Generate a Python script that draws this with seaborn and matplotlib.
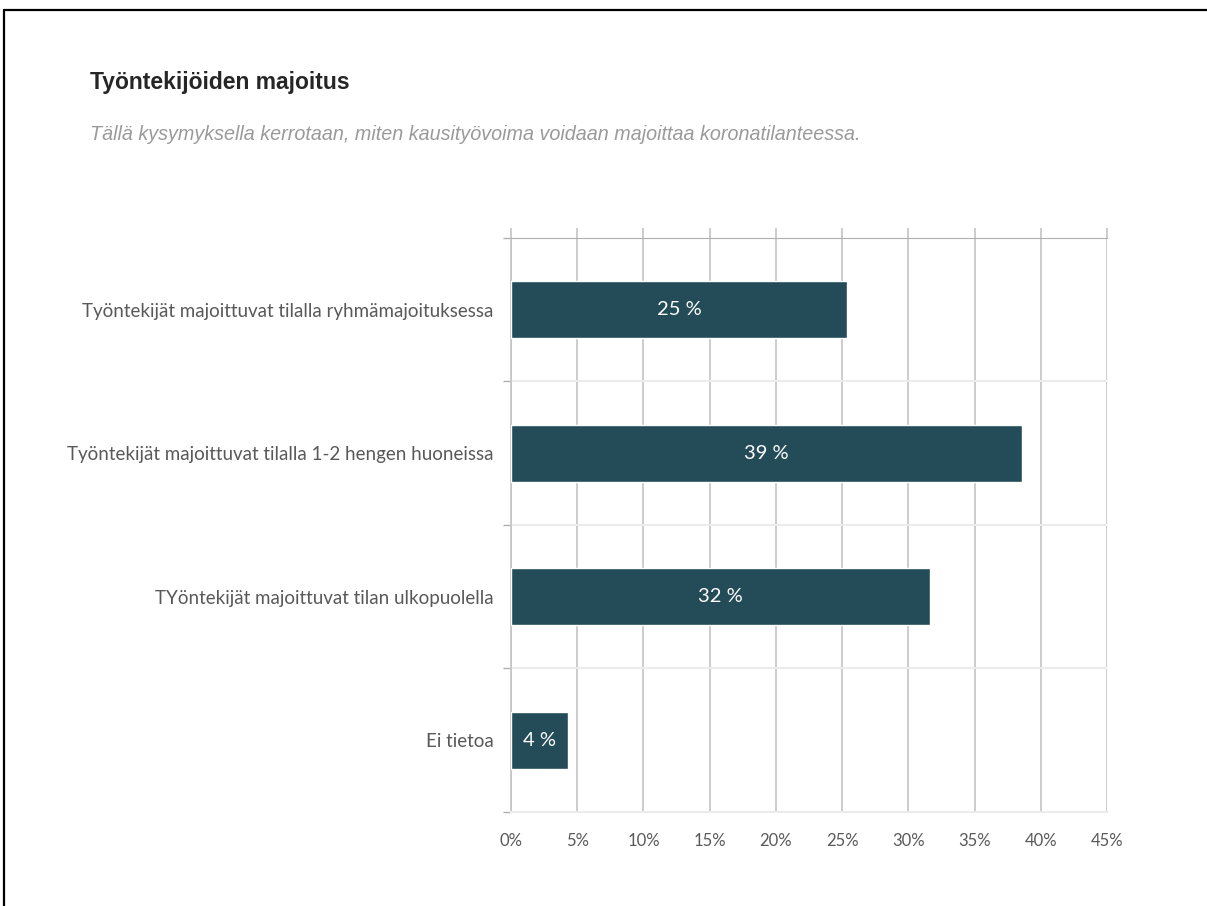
import matplotlib
matplotlib.use("Agg")
import matplotlib.pyplot as plt
from matplotlib.lines import Line2D
from matplotlib.ticker import FuncFormatter, MultipleLocator
import pandas as pd
import seaborn as sns

kategoriat = ['Työntekijät majoittuvat tilalla ryhmämajoituksessa',
              'Työntekijät majoittuvat tilalla 1-2 hengen huoneissa',
              'TYöntekijät majoittuvat tilan ulkopuolella',
              'Ei tietoa']
osuudet = [25.4, 38.6, 31.6, 4.3]
otsikko = 'Työntekijöiden majoitus'
alaotsikko = 'Tällä kysymyksella kerrotaan, miten kausityövoima voidaan majoittaa koronatilanteessa.'

df = pd.DataFrame({'kategoria': kategoriat, 'osuus': osuudet})

sns.set_style('white')
plt.rcParams['font.family'] = ['Lato', 'DejaVu Sans']

fig = plt.figure(figsize=(12.07, 9.06), dpi=100)
ax = fig.add_axes([0.4234, 0.1038, 0.4938, 0.6335])

sns.barplot(data=df, x='osuus', y='kategoria', orient='h', color='#234B58',
            width=0.4, saturation=1, ax=ax, zorder=3)

for patch, v in zip(ax.patches, osuudet):
    ax.text(patch.get_x() + patch.get_width() / 2, patch.get_y() + patch.get_height() / 2,
            f'{round(v)} %', color='white', ha='center', va='center', fontsize=14.5, zorder=4)

ax.set_xlim(0, 45)
ax.set_ylim(3.5, -0.5)
ax.xaxis.set_major_locator(MultipleLocator(5))
ax.xaxis.set_major_formatter(FuncFormatter(lambda x, p: f'{x:.0f}%'))
ax.grid(axis='x', color='#c4c4c4', linewidth=1.2, zorder=0)

# vaakaviivat kategorioiden väliin
for b in [0.5, 1.5, 2.5]:
    ax.axhline(b, color='#ebebeb', linewidth=1.5, zorder=1)

ax.set_xlabel('')
ax.set_ylabel('')
ax.spines['right'].set_visible(False)
ax.spines['top'].set_color('#b0b0b0')
ax.spines['bottom'].set_color('#ebebeb')
ax.spines['bottom'].set_linewidth(1.5)
ax.spines['left'].set_color('#c4c4c4')
ax.spines['left'].set_linewidth(1.2)

ax.tick_params(axis='x', which='major', top=True, bottom=False, labeltop=False,
               length=7, color='#c4c4c4', width=1.2, labelsize=12, labelcolor='#595959', pad=8)
ax.tick_params(axis='y', which='major', left=False, labelsize=13.5, labelcolor='#595959', pad=9)
ax.set_yticks([-0.5, 0.5, 1.5, 2.5, 3.5], minor=True)
ax.tick_params(axis='y', which='minor', left=True, length=6, color='#b0b0b0', width=1)

fig.text(0.0746, 0.909, otsikko, fontsize=16.5, fontweight='bold', color='#262626',
         family=['Liberation Sans', 'DejaVu Sans'], va='center')
fig.text(0.0746, 0.852, alaotsikko, fontsize=14.2, style='italic', color='#9a9a9a',
         family=['Liberation Sans', 'DejaVu Sans'], va='center')

# kehys vasemmalle ja ylös
fig.add_artist(Line2D([0.0035, 1.0], [0.9895, 0.9895], color='black', linewidth=1.6,
                      transform=fig.transFigure))
fig.add_artist(Line2D([0.0035, 0.0035], [0.0, 0.9895], color='black', linewidth=1.6,
                      transform=fig.transFigure))

fig.savefig('out.png', dpi=100)
